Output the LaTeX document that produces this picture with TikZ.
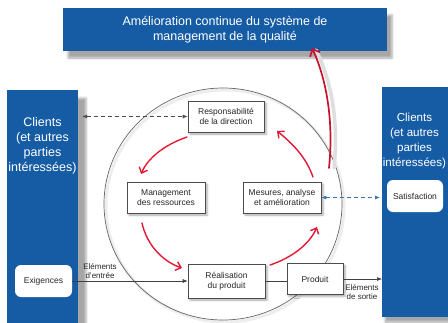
\documentclass[tikz,border=0pt]{standalone}
\usepackage{fontspec}
\setmainfont{Liberation Sans}
\usetikzlibrary{arrows.meta,shadows.blur}
\definecolor{isoblue}{RGB}{22,92,165}
\definecolor{isored}{RGB}{228,24,52}
\definecolor{deepred}{RGB}{200,18,45}
\begin{document}
\begin{tikzpicture}[x=1pt,y=-1pt,
  bluebox/.style={draw=none, fill=isoblue, inner sep=0pt, outer sep=0pt, align=center, text=white, font=\fontsize{12.5}{14.5}\selectfont},
  proc/.style={draw=black!70, fill=white, line width=0.6pt, align=center, inner sep=0pt, font=\fontsize{8.5}{10.5}\selectfont, text=black!85, blur shadow={shadow xshift=2pt, shadow yshift=-2pt, shadow blur steps=4, shadow opacity=35}},
  soft/.style={fill=white, draw=none, rounded corners=6pt, align=center, inner sep=0pt, font=\fontsize{8.5}{10}\selectfont, text=black!85},
  lbl/.style={align=center, inner sep=0pt, font=\fontsize{8}{8.5}\selectfont, text=black!85},
  bigtxt/.style={align=center, inner sep=0pt, text=white, font=\fontsize{12.5}{15}\selectfont},
  redarr/.style={draw=isored, line width=1.4pt, line cap=round, -{Straight Barb[length=5pt,width=9pt,line width=1.4pt]}},
  flow/.style={draw=black!75, line width=0.6pt, -{Latex[length=5pt,width=4pt]}},
  dlink/.style={dashed, line width=0.7pt, dash pattern=on 4pt off 3pt, {Latex[length=5pt,width=4pt]}-{Latex[length=5pt,width=4pt]}},
]
\useasboundingbox (0,0) rectangle (448,322);

% circle with soft shadow
\draw[black!7, line width=3pt] (225,206) ellipse [x radius=119pt, y radius=116pt];
\draw[black!60, line width=0.7pt] (223,204) ellipse [x radius=119pt, y radius=116pt];

% blue blocks
\node[bluebox, minimum width=324pt, minimum height=43pt,
  blur shadow={shadow xshift=5pt, shadow yshift=-7pt, shadow opacity=35, shadow blur steps=4}]
  (banner) at (225,29.5) {Amélioration continue du système de\\management de la qualité};
\node[bluebox, minimum width=71pt, minimum height=234pt,
  blur shadow={shadow xshift=8pt, shadow yshift=-8pt, shadow opacity=35, shadow blur steps=4}]
  (lbox) at (42.5,207) {};
\node[bigtxt] (ltxt) at (42.5,145.5) {Clients\\(et autres\\parties\\intéressées)};
\node[bluebox, minimum width=67pt, minimum height=230pt,
  blur shadow={shadow xshift=3pt, shadow yshift=-5pt, shadow opacity=35, shadow blur steps=4}]
  (rbox) at (415.5,202) {};
\node[bigtxt, font=\fontsize{11.6}{14.8}\selectfont] (rtxt) at (414.5,141) {Clients\\(et autres\\parties\\intéressées)};

\node[soft, minimum width=57pt, minimum height=32pt] (exig) at (43.5,281) {Exigences};
\node[soft, minimum width=56pt, minimum height=32pt] (satis) at (415,196) {Satisfaction};

% process boxes
\node[proc, minimum width=76pt, minimum height=31pt] (resp) at (226,116.5) {Responsabilité\\de la direction};
\node[proc, minimum width=78pt, minimum height=31pt] (mgmt) at (166,197.5) {Management\\des ressources};
\node[proc, minimum width=78pt, minimum height=31pt] (mes) at (282,197.5) {Mesures, analyse\\et amélioration};
\node[proc, minimum width=77pt, minimum height=34pt] (real) at (226.5,281) {Réalisation\\du produit};
\node[proc, minimum width=56pt, minimum height=31pt] (prod) at (315,279) {Produit};

% flows
\draw[flow] (exig.east) -- (real.west);
\draw[black!75, line width=0.6pt] (real.east) -- (real.east -| prod.west);
\draw[flow] (prod.east) -- (prod.east -| rbox.west);
\node[lbl] (inlbl) at (100,271) {Eléments\\d'entrée};
\node[lbl] (outlbl) at (362,292) {Eléments\\de sortie};

\draw[dlink, black!70, shorten <=4pt] (lbox.east |- resp.west) -- (resp.west);
\draw[dlink, isoblue!85, shorten >=2pt] (mes.east) -- (mes.east -| rbox.west);

% red cycle arrows
\coordinate (a1s) at (187,137); \coordinate (a1e) at (141,174);
\coordinate (a2s) at (142,223); \coordinate (a2e) at (182,268);
\coordinate (a3s) at (270,265); \coordinate (a3e) at (317,227);
\coordinate (a4s) at (313,177); \coordinate (a4e) at (277,131);
\draw[redarr] (a1s) .. controls (164,145) and (148,158) .. (a1e);
\draw[redarr] (a2s) .. controls (147,246) and (164,262) .. (a2e);
\draw[redarr] (a3s) .. controls (291,258) and (309,245) .. (a3e);
\draw[redarr] (a4s) .. controls (306,157) and (293,144) .. (a4e);

% big improvement arrow
\coordinate (bs) at (329,168); \coordinate (be) at (312,48);
\draw[black!13, line width=3.5pt, line cap=round] ([xshift=5pt]bs) .. controls (339,120) and (331,80) .. ([xshift=4pt,yshift=-2pt]be);
\draw[deepred, line width=1.7pt, line cap=round, -{Straight Barb[length=6pt,width=11pt,line width=1.7pt]}]
  (bs) .. controls (334,120) and (326,78) .. (be);
\end{tikzpicture}
\end{document}
